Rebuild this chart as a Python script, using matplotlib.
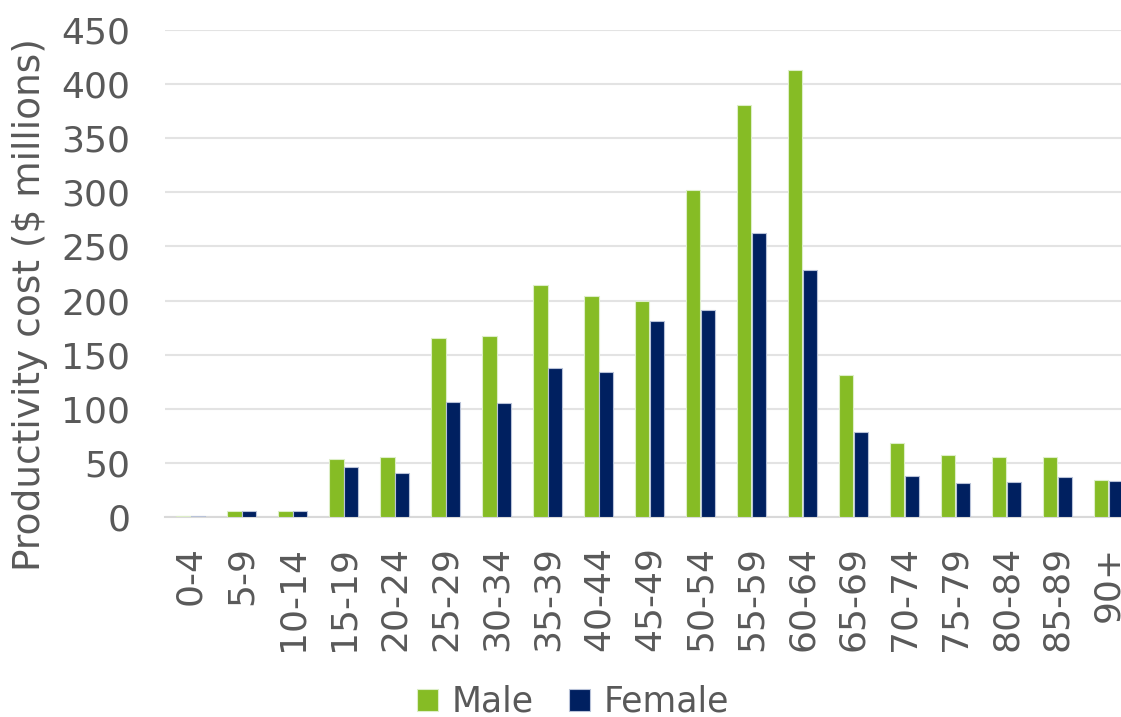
import numpy as np
import matplotlib.pyplot as plt

ages = ['0-4', '5-9', '10-14', '15-19', '20-24', '25-29', '30-34', '35-39', '40-44',
        '45-49', '50-54', '55-59', '60-64', '65-69', '70-74', '75-79', '80-84', '85-89', '90+']
male = [1, 6, 6, 54, 55, 165, 167, 214, 204, 200, 302, 381, 413, 131, 68, 57, 55, 55, 34]
female = [1, 6, 6, 46, 41, 106, 105, 138, 134, 181, 191, 262, 228, 79, 38, 31, 32, 37, 33]

green = '#86BC25'
navy = '#002060'
grey = '#595959'

fig = plt.figure(figsize=(11.21, 7.17), dpi=100)
# right part of the plot runs past the figure edge, like the original
ax = fig.add_axes([165 / 1121, 1 - 517 / 717, 969 / 1121, 487 / 717])

x = np.arange(len(ages))
w = 0.28
ax.bar(x - w / 2, male, w, color=green, edgecolor='#DDEEC8', linewidth=0.8, label='Male', zorder=3)
ax.bar(x + w / 2, female, w, color=navy, edgecolor='#B8C2D8', linewidth=0.8, label='Female', zorder=3)

ax.set_xlim(-0.5, len(ages) - 0.5)
ax.set_ylim(0, 450)
ax.set_yticks(range(0, 451, 50))
ax.yaxis.grid(True, color='#E3E3E3', linewidth=1.5, zorder=0)
ax.set_axisbelow(True)
for s in ['top', 'right', 'left']:
    ax.spines[s].set_visible(False)
ax.spines['bottom'].set_color('#D9D9D9')
ax.spines['bottom'].set_linewidth(1.5)

ax.set_xticks(x)
ax.set_xticklabels(ages, rotation=90, color=grey)
ax.tick_params(axis='both', length=0, labelsize=26, labelcolor=grey)
ax.tick_params(axis='x', pad=21)
ax.tick_params(axis='y', pad=25)

fig.text(30 / 1121, 1 - 305 / 717, 'Productivity cost ($ millions)', rotation=90,
         ha='center', va='center', fontsize=27, color=grey)

leg = fig.legend(loc='center', bbox_to_anchor=(573 / 1121, 1 - 702 / 717), ncol=2,
                 frameon=False, fontsize=25, handlelength=0.6, handleheight=0.6,
                 columnspacing=1.0, handletextpad=0.4, borderpad=0)
for t in leg.get_texts():
    t.set_color(grey)

fig.savefig('out.png', dpi=100)
